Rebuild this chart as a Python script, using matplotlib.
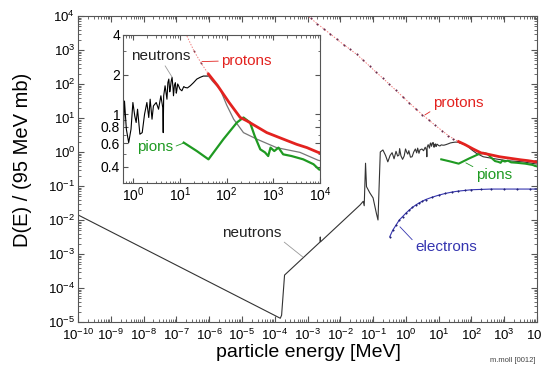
import numpy as np
import matplotlib
matplotlib.use("Agg")
import matplotlib.pyplot as plt
from matplotlib.ticker import LogLocator, NullFormatter, FixedLocator, FixedFormatter

plt.rcParams['font.family'] = ['Liberation Sans', 'DejaVu Sans']
plt.rcParams['mathtext.fontset'] = 'custom'
plt.rcParams['mathtext.rm'] = 'Liberation Sans'
plt.rcParams['mathtext.it'] = 'Liberation Sans:italic'
plt.rcParams['mathtext.bf'] = 'Liberation Sans:bold'

# values, as log10(E / MeV) and log10(D)
neutron_logE = [-10.0, -3.83, -3.79, -3.70, -2.62, -2.61, -2.60, -1.40, -1.30, -1.27,
                -1.23, -1.20, -1.10, -1.00, -0.90, -0.85, -0.78, -0.70, -0.62, -0.55,
                -0.48, -0.42, -0.36, -0.30, -0.25, -0.21, -0.19, -0.15, -0.10, -0.05,
                -0.01, 0.03, 0.06, 0.09, 0.14, 0.19, 0.24, 0.29, 0.33, 0.36,
                0.40, 0.43, 0.49, 0.54, 0.59, 0.63, 0.64, 0.65, 0.68, 0.72,
                0.74, 0.76, 0.78, 0.79, 0.81, 0.83, 0.85, 0.86, 0.88, 0.90,
                0.92, 0.93, 0.95, 0.97, 1.00, 1.04, 1.08, 1.11, 1.16, 1.22,
                1.29, 1.36, 1.43, 1.50, 1.61, 1.70, 1.86, 2.00, 2.15, 2.36,
                2.65, 3.07, 3.57, 3.96, 4.20]
neutron_logD = [-1.85, -4.89, -4.80, -3.62, -2.65, -2.50, -2.64, -1.56, -1.45, -1.58,
                -0.33, -1.02, -1.20, -1.35, -1.80, -2.00, 0.00, 0.06, -0.10, -0.29,
                -0.10, -0.02, -0.20, 0.02, -0.12, -0.089, 0.10, -0.114, -0.216, -0.114,
                0.089, -0.013, -0.063, 0.038, -0.152, -0.14, 0.0, 0.089, -0.025, 0.114,
                -0.038, 0.063, 0.089, 0.038, 0.14, 0.05, -0.14, 0.14, 0.216, 0.114,
                0.24, 0.267, 0.17, 0.19, 0.25, 0.28, 0.20, 0.14, 0.22, 0.24,
                0.16, 0.178, 0.23, 0.216, 0.19, 0.178, 0.21, 0.203, 0.20, 0.216,
                0.24, 0.267, 0.28, 0.29, 0.29, 0.25, 0.19, 0.07, -0.038, -0.14,
                -0.19, -0.254, -0.29, -0.35, -0.37]

proton_low_logE = [-3.1, -2.9, -2.7, -2.5, -2.3, -2.1, -1.9, -1.7, -1.5, -1.3,
                   -1.1, -0.9, -0.7, -0.5, -0.3, -0.1, 0.1, 0.3, 0.5, 0.7,
                   0.9, 1.1, 1.3, 1.45, 1.61]
proton_low_logD = [4.08, 3.93, 3.77, 3.62, 3.47, 3.31, 3.16, 3.02, 2.87, 2.70,
                   2.52, 2.34, 2.17, 1.99, 1.81, 1.63, 1.45, 1.27, 1.10, 0.94,
                   0.78, 0.63, 0.48, 0.39, 0.305]
proton_high_logE = [1.61, 1.80, 2.05, 2.29, 2.43, 2.86, 3.29, 3.50, 3.72, 3.96, 4.20]
proton_high_logD = [0.305, 0.22, 0.09, -0.025, -0.05, -0.14, -0.20, -0.229, -0.254, -0.29, -0.31]

pion_logE = [1.08, 1.36, 1.61, 1.93, 2.22, 2.36, 2.50, 2.60, 2.72, 2.82,
             2.89, 2.94, 3.02, 3.11, 3.21, 3.39, 3.64, 3.86, 3.98, 4.20]
pion_logD = [-0.216, -0.28, -0.343, -0.19, -0.063, -0.025, -0.063, -0.165, -0.267, -0.29,
             -0.318, -0.254, -0.28, -0.254, -0.305, -0.318, -0.343, -0.38, -0.42, -0.44]

electron_logE = [-0.49, -0.4, -0.3, -0.2, -0.1, 0.0, 0.1, 0.2, 0.3, 0.4, 0.5, 0.6, 0.8,
                 1.0, 1.2, 1.4, 1.6, 1.8, 2.0, 2.3, 2.6, 3.0, 3.4, 3.8, 4.2]
electron_logD = [-2.49, -2.30, -2.15, -2.00, -1.90, -1.80, -1.71, -1.63, -1.56, -1.50, -1.45,
                 -1.40, -1.33, -1.27, -1.22, -1.18, -1.15, -1.13, -1.11, -1.10, -1.09,
                 -1.09, -1.09, -1.09, -1.09]

inset_yticks = [0.4, 0.6, 0.8, 1, 2, 4]
inset_ylabels = ['0.4', '0.6', '0.8', '1', '2', '4']

RED = '#e3221f'
GREEN = '#1f9a22'
BLUE = '#3535b0'
GREY = '#999999'

nE = np.power(10.0, neutron_logE)
nD = np.power(10.0, neutron_logD)
plE = np.power(10.0, proton_low_logE)
plD = np.power(10.0, proton_low_logD)
phE = np.power(10.0, proton_high_logE)
phD = np.power(10.0, proton_high_logD)
piE = np.power(10.0, pion_logE)
piD = np.power(10.0, pion_logD)
eE = np.power(10.0, electron_logE)
eD = np.power(10.0, electron_logD)

fig = plt.figure(figsize=(5.41, 3.68), dpi=100)
ax = fig.add_axes([78/541, 1-322/368, (537-78)/541, (322-16)/368])

ax.plot(nE, nD, color='#333333', lw=0.8)
ax.plot(plE, plD, color='#f08080', lw=0.7, ls=(0, (1.5, 1.5)), marker='o', ms=1.1,
        mfc='#6a3050', mec='#6a3050', mew=0.3)
ax.plot(piE, piD, color=GREEN, lw=1.5)
ax.plot(phE, phD, color=RED, lw=2.0)
ax.plot(eE, eD, color=BLUE, lw=0.8, marker='o', ms=1.1, mfc='#222277', mec='#222277',
        mew=0.3)

ax.set_xscale('log')
ax.set_yscale('log')
ax.set_xlim(1e-10, 1e4)
ax.set_ylim(1e-5, 1e4)
for axis in (ax.xaxis, ax.yaxis):
    axis.set_major_locator(LogLocator(base=10, numticks=30))
    axis.set_minor_locator(LogLocator(base=10, subs=np.arange(2, 10), numticks=30))
    axis.set_minor_formatter(NullFormatter())
ax.tick_params(which='both', direction='in', top=True, right=True, color='#555555')
ax.tick_params(which='major', length=4, labelsize=9.5, pad=2)
ax.tick_params(axis='x', which='major', pad=4)
ax.tick_params(which='minor', length=2)
for s in ax.spines.values():
    s.set_color('#555555')
    s.set_linewidth(0.8)

ax.set_xlabel('particle energy [MeV]', fontsize=14)
ax.xaxis.set_label_coords(0.503, -0.072)
ax.set_ylabel('D(E) / (95 MeV mb)', fontsize=14.5)
ax.yaxis.set_label_coords(-0.1, 0.53)

lead = dict(arrowstyle='-', color=GREY, lw=0.6, shrinkA=0, shrinkB=0)
ax.annotate('neutrons', xy=(10**-3.14, 10**-3.09), xytext=(10**-4.7, 10**-2.38),
            fontsize=11, ha='center', va='center', color='#222222',
            arrowprops=dict(lead, relpos=(1.0, 0.0)))
ax.annotate('protons', xy=(10**0.58, 10**1.09), xytext=(10**1.59, 10**1.44),
            fontsize=11, ha='center', va='center', color=RED,
            arrowprops=dict(lead, color=RED, relpos=(0.0, 0.0)))
ax.annotate('pions', xy=(10**1.83, 10**-0.32), xytext=(10**2.68, 10**-0.68),
            fontsize=11, ha='center', va='center', color=GREEN,
            arrowprops=dict(lead, color=GREEN, relpos=(0.0, 1.0)))
ax.annotate('electrons', xy=(10**-0.18, 10**-2.2), xytext=(10**1.22, 10**-2.79),
            fontsize=11, ha='center', va='center', color=BLUE,
            arrowprops=dict(lead, color=BLUE, relpos=(0.0, 0.8)))

fig.text(535/541, 1-360/368, 'm.moll [0012]', fontsize=5.5, ha='right', va='center',
         color='#444444')

# inset
ins = fig.add_axes([123/541, 1-183/368, (320-123)/541, (183-35)/368])
low = nE <= 10**1.62
ins.plot(nE[low], nD[low], color='black', lw=0.8)
ins.plot(np.append(nE[low][-1:], nE[~low]), np.append(nD[low][-1:], nD[~low]),
         color='#777777', lw=0.9)
ins.plot(plE, plD, color='#f08080', lw=0.7, ls=(0, (1.5, 1.5)), marker='o', ms=1.0,
         mfc='#8a4050', mec='#8a4050', mew=0.3)
ins.plot(piE, piD, color=GREEN, lw=1.6)
ins.plot(phE, phD, color=RED, lw=2.0)
ins.set_xscale('log')
ins.set_yscale('log')
ins.set_xlim(0.6, 1e4)
ins.set_ylim(0.3, 4)
ins.xaxis.set_major_locator(LogLocator(base=10, numticks=10))
ins.xaxis.set_minor_locator(LogLocator(base=10, subs=np.arange(2, 10), numticks=10))
ins.xaxis.set_minor_formatter(NullFormatter())
ins.yaxis.set_major_locator(FixedLocator(inset_yticks))
ins.yaxis.set_major_formatter(FixedFormatter(inset_ylabels))
ins.yaxis.set_minor_locator(LogLocator(base=10, subs=np.arange(2, 10), numticks=10))
ins.yaxis.set_minor_formatter(NullFormatter())
ins.tick_params(which='both', direction='in', top=True, right=True, color='#555555')
ins.tick_params(which='major', length=3.5, labelsize=10, pad=2)
ins.tick_params(which='minor', length=1.8)
for s in ins.spines.values():
    s.set_color('#555555')
    s.set_linewidth(0.8)

ins.annotate('neutrons', xy=(10**0.83, 10**0.282), xytext=(10**0.58, 10**0.442),
             fontsize=11, ha='center', va='center', color='#222222',
             arrowprops=dict(lead, relpos=(0.55, 0.0)))
ins.annotate('protons', xy=(10**1.47, 10**0.40), xytext=(10**2.42, 10**0.404),
             fontsize=11, ha='center', va='center', color=RED,
             arrowprops=dict(lead, color=RED, relpos=(0.0, 0.5)))
ins.annotate('pions', xy=(10**1.1, 10**-0.216), xytext=(10**0.47, 10**-0.25),
             fontsize=11, ha='center', va='center', color=GREEN,
             arrowprops=dict(lead, color=GREEN, relpos=(1.0, 0.5)))

fig.savefig('out.png', dpi=100)
